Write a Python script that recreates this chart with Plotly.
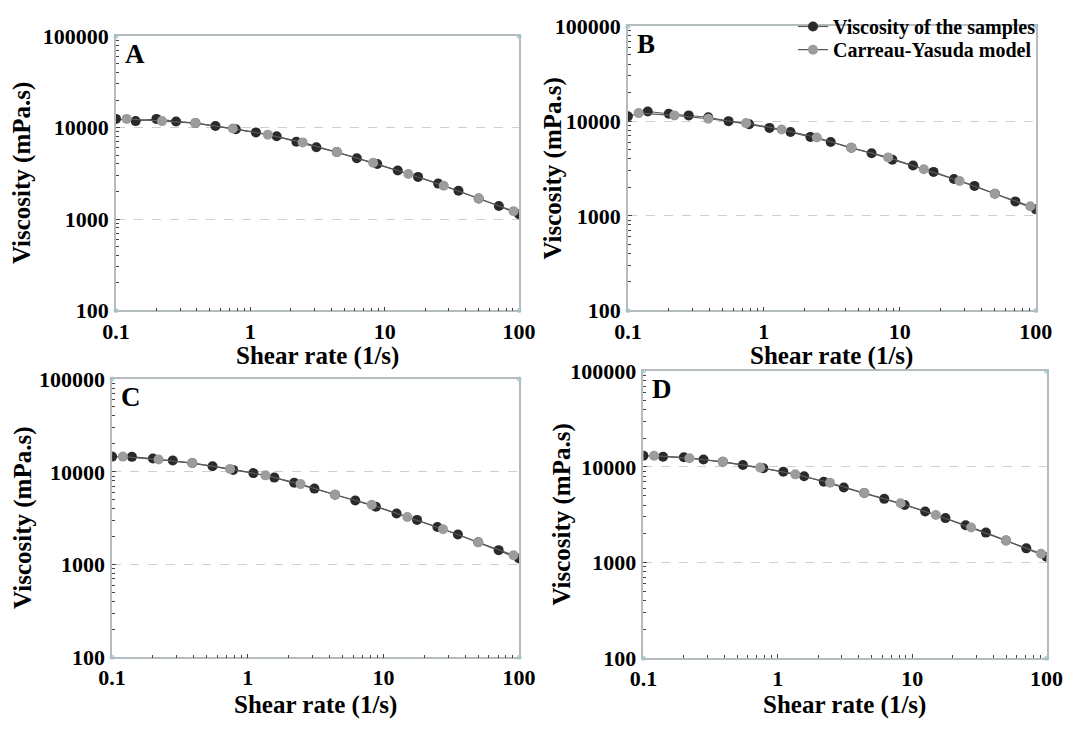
import plotly.graph_objects as go

# ---- data ----
shear_samples = [0.1, 0.14, 0.2, 0.28, 0.39, 0.55, 0.78, 1.1, 1.57, 2.2, 3.1,
                 4.4, 6.2, 8.8, 12.5, 17.7, 25, 35.4, 50, 70.7, 100]
shear_model = [0.12, 0.22, 0.39, 0.74, 1.35, 2.45, 4.4, 8.2, 15, 27.5, 50, 91]

visc_A_samples = [12450, 11770, 12450, 11670, 11200, 10400, 9600, 8860, 8030, 7000, 6100,
                  5400, 4630, 4000, 3400, 2890, 2440, 2040, 1680, 1390, 1130]
visc_A_model = [12450, 11770, 11200, 9760, 8370, 6890, 5400, 4130, 3110, 2310, 1680, 1220]

visc_B_samples = [11240, 12640, 11970, 11500, 11000, 10000, 9260, 8490, 7670, 6820, 6020,
                  5230, 4580, 3920, 3400, 2910, 2450, 2070, 1710, 1420, 1170]
visc_B_model = [12160, 11500, 10600, 9540, 8170, 6720, 5230, 4140, 3100, 2330, 1710, 1260]

visc_C_samples = [14580, 14500, 13890, 13240, 12420, 11460, 10490, 9680, 8660, 7610, 6590,
                  5660, 4900, 4200, 3550, 3030, 2540, 2110, 1740, 1430, 1160]
visc_C_model = [14580, 13560, 12420, 10750, 9160, 7370, 5660, 4410, 3250, 2400, 1740, 1260]

visc_D_samples = [13120, 12815, 12620, 11950, 11320, 10480, 9690, 8900, 7990, 7000, 6090,
                  5340, 4640, 4010, 3430, 2920, 2460, 2060, 1700, 1410, 1150]
visc_D_model = [13120, 12330, 11320, 9850, 8370, 6840, 5340, 4170, 3150, 2330, 1700, 1240]

panel_letters = ["A", "B", "C", "D"]
x_tick_vals = [0.1, 1, 10, 100]
x_tick_text = ["0.1", "1", "10", "100"]
y_tick_vals = [100, 1000, 10000, 100000]
y_tick_text = ["100", "1000", "10000", "100000"]
x_range = [0.1, 100]
y_range = [100, 100000]
minor_digits = [2, 3, 4, 5, 6, 7, 8, 9]
series_names = ["Viscosity of the samples", "Carreau-Yasuda model"]

panels = [
    (visc_A_samples, visc_A_model),
    (visc_B_samples, visc_B_model),
    (visc_C_samples, visc_C_model),
    (visc_D_samples, visc_D_model),
]

x_minor = [d * v for v in x_tick_vals[:-1] for d in minor_digits]
y_minor = [d * v for v in y_tick_vals[:-1] for d in minor_digits]

# ---- layout geometry (pixels) ----
W, H = 1081, 735
boxes = [  # x0, x1, ytop, ybottom in pixels
    (105, 520, 25, 309),
    (632, 1052, 15, 309),
    (101, 520, 380, 668),
    (648, 1063, 372, 669),
]
ytitle_x = [9, 555, 9, 564]
xtitle_y = [356, 356, 717, 717]

FONT = "Liberation Serif"
DARK = "#2a2a2a"
GRAY = "#9c9c9c"
LINE = "#5a5a5a"
FRAME = "#b4bcc0"
CORNER = "#a9dbe3"

fig = go.Figure()
layout = dict(
    width=W, height=H, margin=dict(l=0, r=0, t=0, b=0),
    paper_bgcolor="white", plot_bgcolor="white",
    font=dict(family=FONT, color="black"),
    annotations=[],
)

for i, ((samples, model), (x0, x1, yt, yb)) in enumerate(zip(panels, boxes)):
    n = "" if i == 0 else str(i + 1)
    xa, ya = "x" + n, "y" + n
    fig.add_trace(go.Scatter(
        x=shear_samples, y=samples, mode="lines+markers", name=series_names[0],
        xaxis=xa, yaxis=ya, showlegend=(i == 1), legend="legend",
        line=dict(color=LINE, width=1.2),
        marker=dict(color=DARK, size=10, line=dict(width=0))))
    fig.add_trace(go.Scatter(
        x=shear_model, y=model, mode="lines+markers", name=series_names[1],
        xaxis=xa, yaxis=ya, showlegend=(i == 1), legend="legend2",
        line=dict(color=LINE, width=1.2),
        marker=dict(color=GRAY, size=10, line=dict(width=0))))
    # corner dots of the frame
    fig.add_trace(go.Scatter(
        x=[x_range[0], x_range[1], x_range[0], x_range[1]],
        y=[y_range[0], y_range[0], y_range[1], y_range[1]],
        mode="markers", xaxis=xa, yaxis=ya, showlegend=False, hoverinfo="skip",
        cliponaxis=False, marker=dict(color=CORNER, size=5)))

    axis_common = dict(
        type="log", showline=True, linecolor=FRAME, linewidth=1.5, mirror=True,
        ticks="inside", ticklen=4, tickcolor="#444", tickwidth=1,
        tickfont=dict(family=FONT, size=22, color="black", weight="bold"),
        zeroline=False,
    )
    layout["xaxis" + n] = dict(
        axis_common, domain=[x0 / W, x1 / W], anchor=ya,
        range=[-1, 2], tickvals=x_tick_vals, ticktext=x_tick_text,
        showgrid=False,
        minor=dict(ticks="inside", ticklen=3, tickcolor="#444", tickmode="array",
                   tickvals=x_minor, showgrid=False))
    layout["yaxis" + n] = dict(
        axis_common, domain=[1 - yb / H, 1 - yt / H], anchor=xa,
        range=[2, 5], tickvals=y_tick_vals, ticktext=y_tick_text,
        showgrid=True, gridcolor="#cfcfcf", griddash="dash", gridwidth=1,
        ticklabelstandoff=1,
        minor=dict(ticks="inside", ticklen=3, tickcolor="#444", tickmode="array",
                   tickvals=y_minor, showgrid=False))

    layout["annotations"].append(dict(
        text=panel_letters[i], xref="paper", yref="paper",
        x=(x0 + 7) / W, y=1 - (yt + 1) / H, xanchor="left", yanchor="top",
        showarrow=False, font=dict(family=FONT, size=27, color="black", weight="bold")))
    layout["annotations"].append(dict(
        text="Shear rate (1/s)", xref="paper", yref="paper",
        x=(x0 + x1) / 2 / W, y=1 - xtitle_y[i] / H, xanchor="center", yanchor="middle",
        showarrow=False, font=dict(family=FONT, size=25, color="black", weight="bold")))
    layout["annotations"].append(dict(
        text="Viscosity (mPa.s)", xref="paper", yref="paper", textangle=-90,
        x=ytitle_x[i] / W, y=1 - (yt + yb) / 2 / H, xanchor="center", yanchor="middle",
        showarrow=False, font=dict(family=FONT, size=25, color="black", weight="bold")))

legend_style = dict(
    xanchor="left", yanchor="middle", bgcolor="rgba(0,0,0,0)", borderwidth=0,
    font=dict(family=FONT, size=20, color="black", weight="bold"), itemwidth=30)
layout["legend"] = dict(legend_style, x=802 / W, y=1 - 15 / H)
layout["legend2"] = dict(legend_style, x=802 / W, y=1 - 39 / H)

fig.update_layout(**layout)
fig.write_html("out.html")
